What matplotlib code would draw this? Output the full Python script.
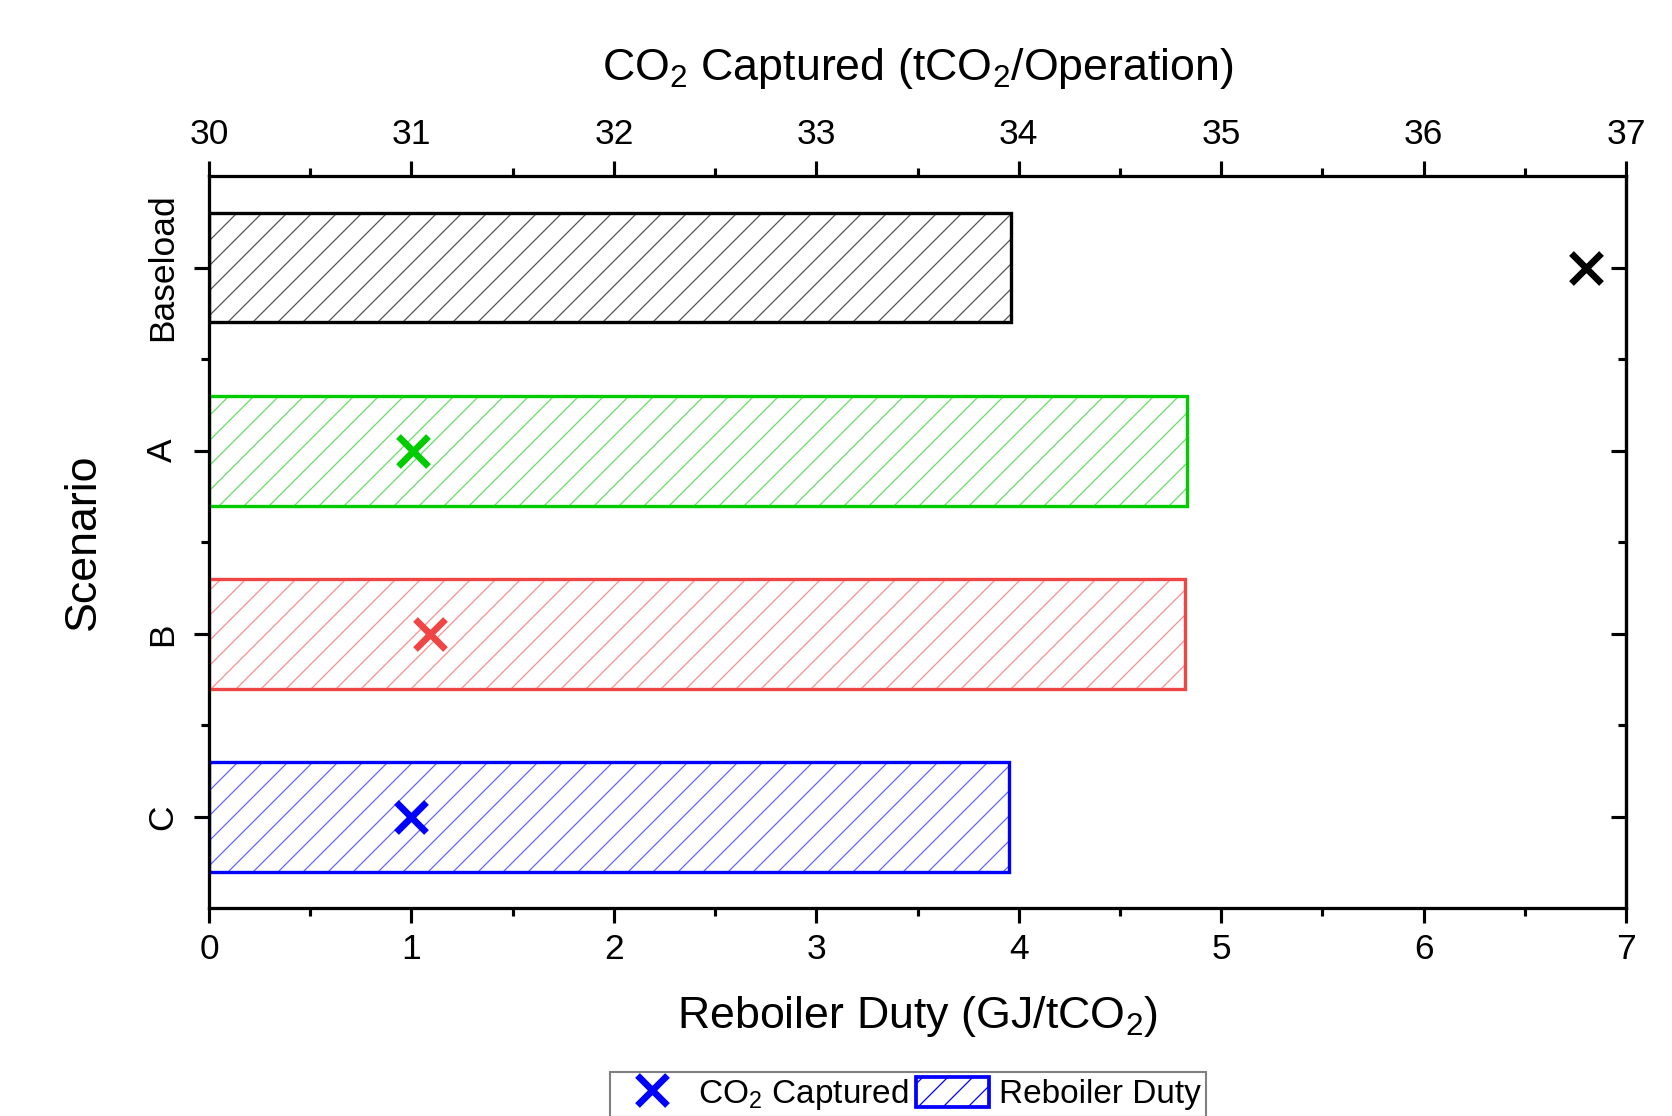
import numpy as np
import matplotlib
matplotlib.use("Agg")
import matplotlib.pyplot as plt
from matplotlib.ticker import MultipleLocator, FixedLocator
from matplotlib.lines import Line2D
from matplotlib.patches import Patch

# ── Data ───────────────────────────────────────────────────────────────────
scenarios = ["Baseload", "A", "B", "C"]
reboiler_duty = [3.96, 4.83, 4.82, 3.95]     # GJ/tCO2  (bottom axis)
co2_captured = [36.80, 31.01, 31.09, 31.00]  # tCO2/Operation  (top axis)

edge_colors = ["#000000", "#00CC00", "#F04545", "#0000FF"]
hatch_colors = ["#555555", "#66DD66", "#F59090", "#6666FF"]

# ── Style ──────────────────────────────────────────────────────────────────
plt.rcParams["font.family"] = ["Liberation Sans", "DejaVu Sans"]
plt.rcParams["mathtext.default"] = "regular"
plt.rcParams["hatch.linewidth"] = 0.6

TICK_FS = 17
LABEL_FS = 21.5
LW = 1.5

fig = plt.figure(figsize=(1672 / 150, 1116 / 150), dpi=150)
ax = fig.add_axes([0.125, 0.186, 0.8475, 0.6563])

y = np.arange(len(scenarios))[::-1]
for yi, dv, ec, hc in zip(y, reboiler_duty, edge_colors, hatch_colors):
    ax.barh(yi, dv, height=0.6, color="none", edgecolor=hc, hatch="//",
            linewidth=0, zorder=2)
    ax.barh(yi, dv, height=0.6, color="none", edgecolor=ec,
            linewidth=1.6, zorder=3)

ax.set_xlim(0, 7)
ax.set_ylim(-0.5, 3.5)
ax.xaxis.set_major_locator(MultipleLocator(1))
ax.xaxis.set_minor_locator(MultipleLocator(0.5))
ax.set_yticks(y, scenarios, rotation=90, va="center")
ax.yaxis.set_minor_locator(FixedLocator([0.5, 1.5, 2.5]))
ax.tick_params(which="both", direction="out", top=False, right=False,
               width=LW, labelsize=TICK_FS)
ax.tick_params(which="major", length=7)
ax.tick_params(which="minor", length=4)
ax.tick_params(axis="x", pad=5)
ax.tick_params(axis="y", pad=7.5)
ax.set_xlabel(r"Reboiler Duty (GJ/tCO$_2$)", fontsize=LABEL_FS, labelpad=13)
ax.set_ylabel("Scenario", fontsize=LABEL_FS, labelpad=20)

# Right side: mirrored ticks pointing in
sec = ax.secondary_yaxis("right")
sec.set_yticks(y)
sec.yaxis.set_minor_locator(FixedLocator([0.5, 1.5, 2.5]))
sec.tick_params(which="both", direction="in", labelright=False, width=LW)
sec.tick_params(which="major", length=7)
sec.tick_params(which="minor", length=4)

# Top axis — CO2 captured
ax2 = ax.twiny()
ax2.set_xlim(30, 37)
for yi, cv, ec in zip(y, co2_captured, edge_colors):
    ax2.plot(cv, yi, ls="none", marker="x", color=ec, markersize=14,
             markeredgewidth=3.2, zorder=5)
ax2.xaxis.set_major_locator(MultipleLocator(1))
ax2.xaxis.set_minor_locator(MultipleLocator(0.5))
ax2.tick_params(which="both", direction="out", width=LW,
                labelsize=TICK_FS, pad=5)
ax2.tick_params(which="major", length=7)
ax2.tick_params(which="minor", length=4)
ax2.set_xlabel(r"CO$_2$ Captured (tCO$_2$/Operation)", fontsize=LABEL_FS,
               labelpad=18)

for a in (ax, ax2, sec):
    for s in a.spines.values():
        s.set_linewidth(LW)

# ── Legend ─────────────────────────────────────────────────────────────────
handles = [
    Line2D([], [], ls="none", marker="x", color="#0000FF", markersize=14,
           markeredgewidth=3.2),
    Patch(facecolor="none", edgecolor="#0000FF", hatch="//", linewidth=1.8),
]
fig.legend(handles, [r"CO$_2$ Captured", "Reboiler Duty"],
           loc="upper center", bbox_to_anchor=(908 / 1672, 1 - 1072 / 1116),
           ncol=2, fontsize=16, frameon=True, fancybox=False,
           edgecolor="#808080", framealpha=1, borderaxespad=0,
           handlelength=2.2, handleheight=1.0, handletextpad=0.3,
           columnspacing=0.2, borderpad=0.15)

fig.savefig("out.png", dpi=150)
